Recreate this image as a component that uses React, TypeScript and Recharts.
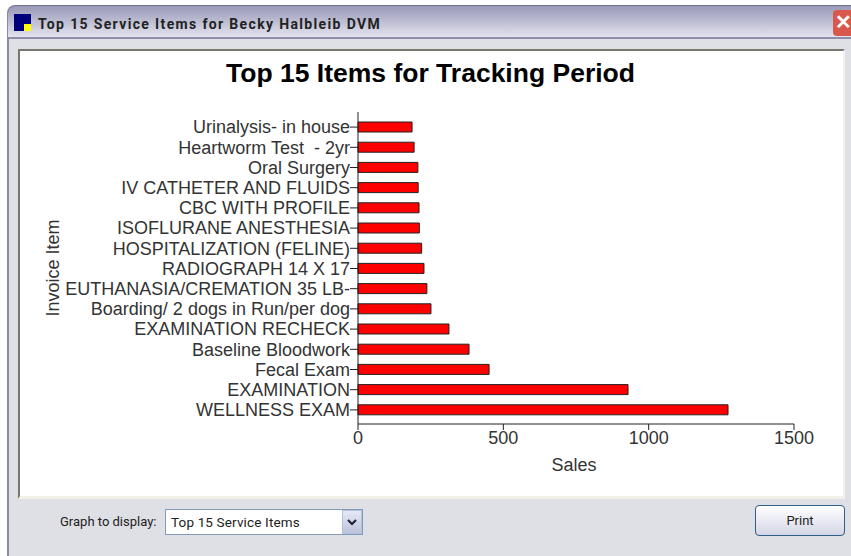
import React from "react";
import { BarChart, Bar, XAxis, YAxis } from "recharts";

const items = [
  "Urinalysis- in house", "Heartworm Test \u00a0- 2yr", "Oral Surgery", "IV CATHETER AND FLUIDS",
  "CBC WITH PROFILE", "ISOFLURANE ANESTHESIA", "HOSPITALIZATION (FELINE)", "RADIOGRAPH 14 X 17",
  "EUTHANASIA/CREMATION 35 LB-", "Boarding/ 2 dogs in Run/per dog", "EXAMINATION RECHECK",
  "Baseline Bloodwork", "Fecal Exam", "EXAMINATION", "WELLNESS EXAM",
];
const sales = [186, 193, 206, 207, 210, 211, 219, 227, 237, 251, 313, 382, 451, 929, 1273];
const xTicks = [0, 500, 1000, 1500];
const data = items.map((name, i) => ({ name, sales: sales[i] }));

const sans = "'Liberation Sans', Arial, sans-serif";
const ui = "Roboto, 'Noto Sans', sans-serif";
const abs = (left: number, top: number, width: number, height: number, extra: React.CSSProperties = {}): React.CSSProperties => ({
  position: "absolute", left, top, width, height, boxSizing: "border-box", ...extra,
});

export default function App() {
  return (
    <div style={{ position: "fixed", left: 0, top: 0, width: 851, height: 556, overflow: "hidden", background: "#fff" }}>
      <div style={abs(7, 5, 844, 551, { background: "#dfdfe6", borderLeft: "2px solid #8a8aa6", borderTopLeftRadius: 8 })} />
      <div style={abs(8, 5, 843, 34, { background: "linear-gradient(#9a9ab8 0%, #aeaec8 30%, #e4e4ee 100%)", borderTop: "1px solid #70708a", borderBottom: "2px solid #8e8eaa", borderTopLeftRadius: 8 })} />
      <div style={abs(14, 14, 17, 17, { background: "#00007c" })} />
      <div style={abs(24, 24, 7, 7, { background: "#ffff00" })} />
      <div style={abs(38, 13, 400, 20, { font: `bold 14px/22px ${ui}`, color: "#222", whiteSpace: "nowrap", letterSpacing: 1.35 })}>Top 15 Service Items for Becky Halbleib DVM</div>
      <div style={abs(833, 10, 18, 26, { background: "#d8584c", borderRadius: "4px 0 0 4px", color: "#fff", font: `bold 20px/25px ${sans}`, paddingLeft: 2, overflow: "hidden" })}>✕</div>

      <div style={abs(18, 49, 827, 450, { background: "#fff", borderTop: "2px solid #77776e", borderLeft: "2px solid #77776e", borderRight: "2px solid #f2f2e8", borderBottom: "3px solid #f2f2e8" })} />

      <div style={abs(20, 56, 821, 34, { textAlign: "center", font: `bold 26.5px/34px ${sans}`, color: "#000" })}>Top 15 Items for Tracking Period</div>

      <div style={abs(0, 0, 851, 556)}>
        <BarChart
          width={851}
          height={556}
          data={data}
          layout="vertical"
          margin={{ top: 112, right: 57, bottom: 82, left: 8 }}
          barCategoryGap={5}
        >
          <XAxis
            type="number"
            domain={[0, 1500]}
            ticks={xTicks}
            tickSize={6}
            tickMargin={1}
            stroke="#222"
            tick={{ fill: "#333", fontSize: 18, fontFamily: sans }}
            height={50}
            label={{ value: "Sales", position: "insideBottom", offset: 0, dy: -3, dx: -2, fill: "#333", fontSize: 18, fontFamily: sans }}
          />
          <YAxis
            type="category"
            dataKey="name"
            width={350}
            interval={0}
            tickSize={8}
            tickMargin={0}
            padding={{ top: 5, bottom: 4 }}
            stroke="#222"
            tick={{ fill: "#333", fontSize: 18, fontFamily: sans }}
            label={{ value: "Invoice Item", angle: -90, position: "insideLeft", offset: 0, dx: 45, dy: 0, fill: "#333", fontSize: 18, fontFamily: sans, style: { textAnchor: "middle" } }}
          />
          <Bar dataKey="sales" fill="#ff0000" stroke="#222" strokeWidth={1} barSize={10} isAnimationActive={false} />
        </BarChart>
      </div>

      <div style={abs(60, 513, 110, 18, { font: `13px/18px ${ui}`, color: "#222", whiteSpace: "nowrap" })}>Graph to display:</div>
      <div style={abs(165, 509, 198, 26, { background: "#fff", border: "1px solid #7f9db9", font: `13.5px/24px ${ui}`, color: "#222", paddingLeft: 5, letterSpacing: 0.15 })}>Top 15 Service Items</div>
      <div style={abs(342, 510, 20, 24, { background: "linear-gradient(#e6e9f4, #bcc3da)", border: "1px solid #b4c0dc" })}>
        <svg width={18} height={22} style={{ display: "block" }}><polyline points="5,9 9,13 13,9" fill="none" stroke="#223" strokeWidth={2.2} /></svg>
      </div>
      <div style={abs(755, 505, 90, 31, { background: "linear-gradient(#fff, #d4d6e6)", border: "1px solid #2f5f8a", borderRadius: 4, textAlign: "center", font: `13px/29px ${ui}`, color: "#222" })}>Print</div>
    </div>
  );
}
